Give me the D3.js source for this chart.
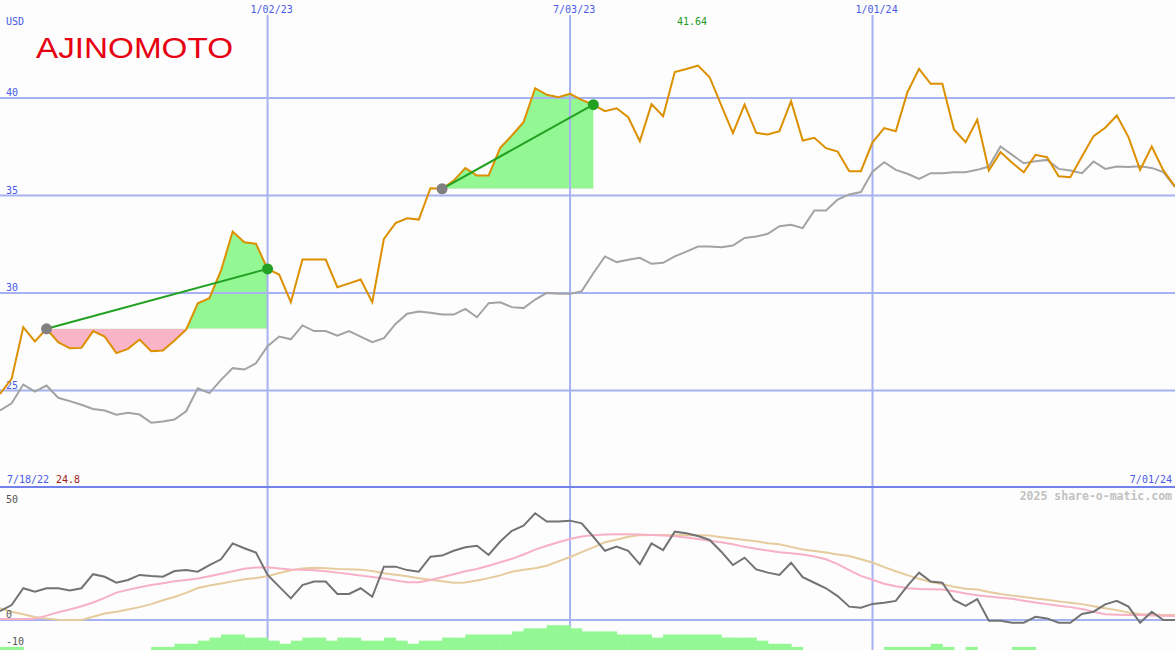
<!DOCTYPE html>
<html><head><meta charset="utf-8">
<script src="https://cdn.jsdelivr.net/npm/d3@7"></script>
<style>
html,body{margin:0;padding:0;background:#fcfdfc;}
svg{display:block;}
</style></head><body>
<svg id="chart" width="1175" height="650"></svg>
<script>
// ---------- data ----------
const startDate = "2022-07-25";
const weekCount = 102;
const closeValues = [24.8,25.57,28.22,27.49,28.14,27.45,27.14,27.16,28.02,27.74,
26.89,27.11,27.59,26.99,27.03,27.54,28.09,29.45,29.71,31.13,
33.13,32.58,32.50,31.21,30.92,29.50,31.69,31.69,31.69,30.27,
30.47,30.67,29.50,32.75,33.56,33.81,33.74,35.35,35.32,35.74,
36.38,36.00,36.00,37.42,38.05,38.73,40.48,40.14,40.02,40.19,
39.88,39.63,39.30,39.45,38.99,37.76,39.66,39.04,41.31,41.46,
41.64,41.04,39.60,38.17,39.63,38.19,38.10,38.27,39.81,37.79,
37.93,37.40,37.23,36.22,36.22,37.70,38.43,38.27,40.27,41.47,
40.70,40.70,38.36,37.71,38.86,36.26,37.20,36.65,36.17,37.06,
36.94,35.96,35.91,36.97,38.02,38.45,39.08,37.97,36.29,37.49,
36.26,35.44];
const averageValues = [23.95,24.32,25.28,24.92,25.23,24.60,24.43,24.24,24.03,23.95,
23.73,23.83,23.74,23.32,23.38,23.49,23.91,25.09,24.84,25.52,
26.12,26.05,26.37,27.25,27.74,27.60,28.31,28.02,28.02,27.79,
28.02,27.74,27.45,27.66,28.39,28.91,29.03,28.96,28.87,28.87,
29.16,28.73,29.45,29.50,29.25,29.20,29.64,29.98,29.93,29.93,
30.07,30.99,31.85,31.56,31.68,31.78,31.47,31.52,31.85,32.10,
32.36,32.36,32.32,32.41,32.80,32.87,33.01,33.40,33.47,33.30,
34.21,34.21,34.77,35.03,35.15,36.20,36.68,36.29,36.09,35.83,
36.12,36.12,36.17,36.17,36.29,36.46,37.49,37.06,36.63,36.73,
36.80,36.34,36.26,36.12,36.72,36.34,36.46,36.43,36.48,36.39,
36.17,35.40];
const oscValues = [3.9,6.5,13.8,12.3,13.8,13.8,12.8,13.8,19.9,18.8,
16.2,17.4,19.6,19.1,18.8,21.3,21.7,21.0,23.9,26.4,
33.3,31.2,29.3,19.6,14.5,9.4,15.2,16.7,16.7,11.3,
11.3,13.8,10.1,23.2,23.2,21.7,21.0,27.5,28.0,30.1,
31.6,32.3,28.3,34.1,38.8,41.0,46.4,42.8,42.8,43.2,
42.0,36.2,30.1,31.9,30.1,24.2,33.3,30.4,38.4,37.7,
36.5,34.8,29.7,23.9,27.1,22.0,20.6,19.6,24.9,18.6,
16.2,13.8,10.4,5.8,5.3,7.0,7.5,8.3,14.8,20.6,
16.7,16.2,8.7,6.1,9.1,-0.3,-0.3,-1.2,-1.2,1.4,
0.7,-1.2,-1.2,2.6,3.6,6.8,8.3,5.8,-1.2,3.6,
0,0];
const pinkValues = [0.4,0.4,0.4,0.5,1.9,3.4,4.6,6.0,7.6,9.6,
11.9,13.1,14.2,15.2,16.0,16.8,17.4,18.0,19.0,20.1,
21.2,22.3,22.8,22.9,22.4,22.0,21.8,21.6,21.2,20.6,
20.0,19.3,18.7,18.0,17.2,16.4,16.4,17.4,18.6,19.9,
21.2,22.2,23.6,25.1,26.6,28.5,30.6,32.3,33.8,35.2,
36.3,36.9,37.2,37.3,37.3,37.2,37.0,36.7,36.4,35.9,
35.2,34.5,33.8,32.9,31.8,31.0,30.2,29.5,29.0,28.5,
27.6,26.4,24.3,21.7,19.2,17.5,15.8,14.7,13.8,13.5,
13.4,13.3,12.5,11.5,10.8,10.2,9.7,9.2,8.4,7.6,
6.9,6.2,5.6,4.8,3.6,2.5,2.3,2.2,2.2,2.0,
1.9,1.7];
const tanValues = [5.1,3.6,2.5,1.3,0.6,0.1,0,0,1.4,2.8,
3.6,4.6,5.6,6.9,8.6,10.0,11.8,13.9,15.0,15.9,
16.8,17.7,18.3,19.0,20.4,21.6,22.4,22.7,22.5,22.2,
22.1,21.9,21.3,20.3,19.7,19.0,18.2,17.5,16.8,16.2,
16.3,17.2,18.2,19.4,21.0,21.8,22.5,23.6,25.5,27.4,
29.5,31.6,33.8,34.9,36.2,36.9,37.0,37.0,37.0,36.9,
36.8,36.7,36.0,35.4,34.8,34.2,33.4,32.9,31.8,30.7,
30.0,29.3,28.5,27.8,26.4,25.0,23.0,21.2,19.5,17.9,
16.5,15.6,14.5,13.6,13.3,12.2,11.3,10.6,10.0,9.3,
8.8,8.1,7.5,6.9,6.0,5.1,4.3,3.3,2.6,2.4,
2.2,2.2];
const histValues = [1,1,0,0,0,0,0,0,0,0,
0,0,0,1,1,2,2,3,4,5,
5,4,4,3,2,3,4,4,3,4,
4,3,3,4,3,2,3,3,4,4,
5,5,5,5,6,7,7,8,8,7,
6,6,6,5,5,5,4,5,5,5,
5,5,4,4,4,3,2,2,1,0,
0,0,0,0,0,0,1,1,1,1,
2,1,0,1,0,0,0,1,1,0,
0,0,0,0,0,0,0,0,0,0,
0,0];
const buyIdx = [4, 38];
const sellIdx = [23, 51];
const gridDates = ["2023-01-02", "2023-07-03", "2024-01-01"];
const gridLabels = ["1/02/23", "7/03/23", "1/01/24"];
const priceTicks = [25, 30, 35, 40];
const oscTicks = [50, 0, -10];
const unitLabel = "USD";
const startLabel = "7/18/22";
const startValueLabel = "24.8";
const endLabel = "7/01/24";
const maxLabel = "41.64";
const creditLabel = "2025 share-o-matic.com";
const logoLabel = "AJINOMOTO";

// ---------- setup ----------
const W = 1175, H = 650, mainBottom = 487.5;
const MONO = "'DejaVu Sans Mono', monospace";
const parse = d3.utcParse("%Y-%m-%d");
const t0 = parse(startDate);
const dates = d3.range(weekCount).map(i => d3.utcDay.offset(t0, 7 * i));
const x = d3.scaleUtc().domain([dates[0], dates[weekCount - 1]]).range([0, W]);
const yMain = d3.scaleLinear().domain([20, 45]).range([mainBottom, 0]);
const yOsc = d3.scaleLinear().domain([0, 50]).range([620, 505]);
const yHist = d3.scaleLinear().domain([0, 10]).range([H, 619]);

const gridCol = "#a6b2f2", blue = "#4a5ae6";
const svg = d3.select("#chart");
svg.append("rect").attr("width", W).attr("height", H).attr("fill", "#fcfdfc");
const defs = svg.append("defs");
defs.append("clipPath").attr("id", "clipMain").append("rect")
  .attr("x", 0).attr("y", 0).attr("width", W).attr("height", 486);
defs.append("clipPath").attr("id", "clipLow").append("rect")
  .attr("x", 0).attr("y", 489).attr("width", W).attr("height", H - 489);

// ---------- trade fills ----------
const fillG = svg.append("g").attr("clip-path", "url(#clipMain)");
buyIdx.forEach((b, k) => {
  const s = sellIdx[k];
  const base = yMain(closeValues[b]);
  const idx = d3.range(b, s + 1);
  const area = d3.area().x(i => x(dates[i])).y0(base).y1(i => yMain(closeValues[i]));
  const up = defs.append("clipPath").attr("id", "up" + k);
  up.append("rect").attr("x", 0).attr("y", 0).attr("width", W).attr("height", base);
  const dn = defs.append("clipPath").attr("id", "dn" + k);
  dn.append("rect").attr("x", 0).attr("y", base).attr("width", W).attr("height", mainBottom - base);
  fillG.append("path").datum(idx).attr("d", area).attr("fill", "#93f893").attr("clip-path", "url(#up" + k + ")");
  fillG.append("path").datum(idx).attr("d", area).attr("fill", "#f9b4c8").attr("clip-path", "url(#dn" + k + ")");
});

// ---------- gridlines ----------
const yAxisG = svg.append("g").call(d3.axisLeft(yMain).tickValues(priceTicks).tickSize(-W).tickFormat(d3.format("d")));
yAxisG.select(".domain").remove();
yAxisG.selectAll(".tick line").attr("stroke", gridCol).attr("stroke-width", 2);
yAxisG.selectAll(".tick text").attr("x", 6).attr("dy", null).attr("y", -2)
  .attr("text-anchor", "start").attr("fill", blue)
  .style("font-size", "10px").style("font-family", MONO);
yAxisG.attr("font-family", null).attr("font-size", null);

const vDates = gridDates.map(parse);
svg.append("g").selectAll("line").data(vDates).join("line")
  .attr("x1", d => x(d)).attr("x2", d => x(d)).attr("y1", 15).attr("y2", H)
  .attr("stroke", gridCol).attr("stroke-width", 2);
svg.append("g").selectAll("text").data(vDates).join("text")
  .attr("x", d => x(d) - 17).attr("y", 12.5)
  .attr("fill", blue).style("font-size", "10px").style("font-family", MONO)
  .text((d, i) => gridLabels[i]);

// ---------- price lines ----------
const lineG = svg.append("g").attr("clip-path", "url(#clipMain)");
const line = d3.line().x((d, i) => x(dates[i])).y(d => yMain(d));
lineG.append("path").datum(averageValues).attr("d", line)
  .attr("fill", "none").attr("stroke", "#a3a3a3").attr("stroke-width", 2);
lineG.append("path").datum(closeValues).attr("d", line)
  .attr("fill", "none").attr("stroke", "#dc9000").attr("stroke-width", 2);

buyIdx.forEach((b, k) => {
  const s = sellIdx[k];
  lineG.append("line")
    .attr("x1", x(dates[b])).attr("y1", yMain(closeValues[b]))
    .attr("x2", x(dates[s])).attr("y2", yMain(closeValues[s]))
    .attr("stroke", "#22a022").attr("stroke-width", 2);
  lineG.append("circle").attr("cx", x(dates[b])).attr("cy", yMain(closeValues[b])).attr("r", 5.5).attr("fill", "#808080");
  lineG.append("circle").attr("cx", x(dates[s])).attr("cy", yMain(closeValues[s])).attr("r", 5.5).attr("fill", "#22a022");
});

// ---------- separator ----------
svg.append("line").attr("x1", 0).attr("x2", W).attr("y1", 487).attr("y2", 487)
  .attr("stroke", "#7282ea").attr("stroke-width", 2.2);

// ---------- lower panel ----------
svg.append("line").attr("x1", 0).attr("x2", W).attr("y1", yOsc(0)).attr("y2", yOsc(0))
  .attr("stroke", gridCol).attr("stroke-width", 2);
const lowG = svg.append("g").attr("clip-path", "url(#clipLow)");
lowG.selectAll("rect.h").data(histValues).join("rect").attr("class", "h")
  .attr("x", (d, i) => x(dates[i]))
  .attr("width", (d, i) => i < weekCount - 1 ? x(dates[i + 1]) - x(dates[i]) + 0.5 : 1)
  .attr("y", d => yHist(d)).attr("height", d => yHist(0) - yHist(d))
  .attr("fill", "#93f893");
const oscLine = d3.line().x((d, i) => x(dates[i])).y(d => yOsc(d));
lowG.append("path").datum(tanValues).attr("d", oscLine)
  .attr("fill", "none").attr("stroke", "#e6cb9c").attr("stroke-width", 2);
lowG.append("path").datum(pinkValues).attr("d", oscLine)
  .attr("fill", "none").attr("stroke", "#f7b0c6").attr("stroke-width", 2);
lowG.append("path").datum(oscValues).attr("d", oscLine)
  .attr("fill", "none").attr("stroke", "#737373").attr("stroke-width", 2);

svg.append("g").selectAll("text").data(oscTicks).join("text")
  .attr("x", 6).attr("y", d => d < 0 ? yOsc(d) + 2 : yOsc(d) - 2)
  .attr("fill", "#555").style("font-size", "10px").style("font-family", MONO).text(d => d);

// ---------- labels ----------
function label(txt, xx, yy, col, anchor) {
  return svg.append("text").attr("x", xx).attr("y", yy).attr("fill", col)
    .attr("text-anchor", anchor || "start")
    .style("font-size", "10px").style("font-family", MONO).text(txt);
}
label(unitLabel, 6, 24.5, blue);
label(startLabel, 7, 482.5, blue);
label(startValueLabel, 56, 482.5, "#a01818");
label(endLabel, 1172, 482.5, blue, "end");
const maxI = d3.maxIndex(closeValues);
label(maxLabel, x(dates[maxI]) - 21, 25, "#1f9a1f");
label(creditLabel, 1172, 500, "#c2c2c2", "end").style("font-size", "11.5px").style("font-weight", "bold");

svg.append("text").attr("x", 36).attr("y", 57.5)
  .attr("fill", "#e60012")
  .style("font-family", "'Liberation Sans', Arial, sans-serif")
  .style("font-size", "29px")
  .attr("textLength", 197).attr("lengthAdjust", "spacingAndGlyphs")
  .text(logoLabel);
</script>
</body></html>
